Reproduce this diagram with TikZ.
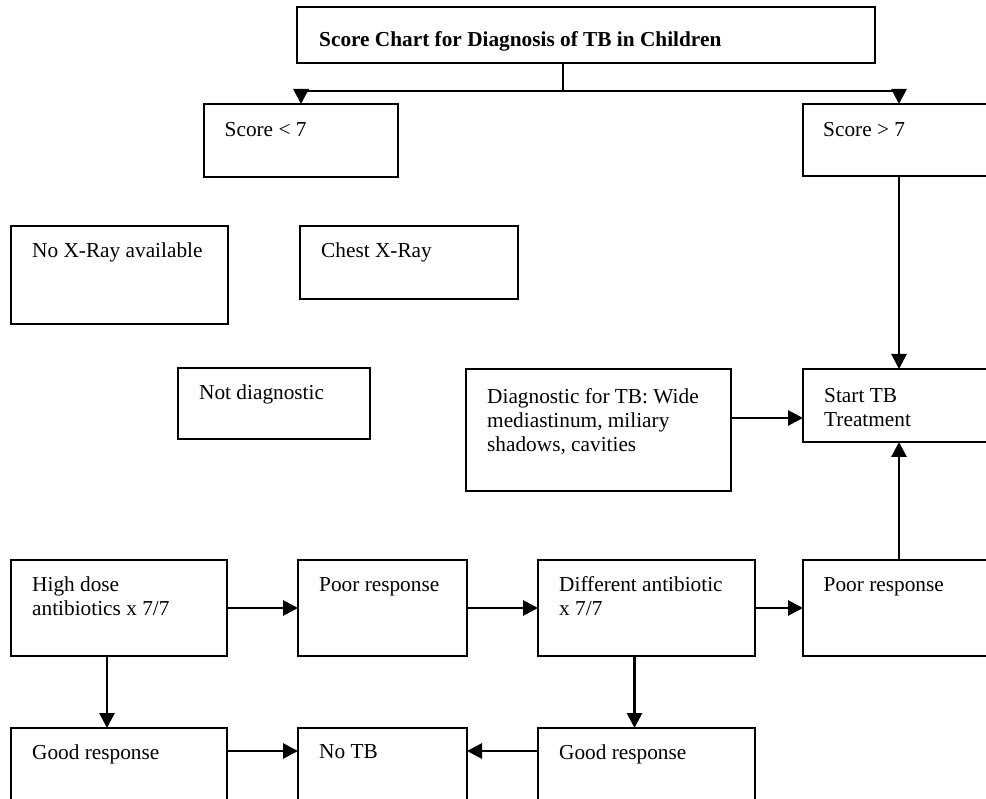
\documentclass[tikz,border=0pt]{standalone}
\usepackage{fontspec}
\setmainfont{Liberation Serif}
\usetikzlibrary{arrows.meta,calc}

\tikzset{
  box/.style={draw, line width=2.8pt, anchor=north west, inner sep=0pt, outer sep=0pt},
  txt/.style={anchor=north west, inner sep=0pt, align=left,
              font=\fontsize{21.3}{24}\selectfont},
  link/.style={line width=2.8pt},
  arr/.style={link, -{Triangle[length=15pt,width=15pt]}}
}

\begin{document}
\begin{tikzpicture}[x=1pt, y=-1pt]
  \useasboundingbox (0,0) rectangle (986,799);
  \clip (0,0) rectangle (986,799);

  % boxes (top-left corner, size)
  \node[box, minimum width=578, minimum height=56] (title)   at (297,7)   {};
  \node[box, minimum width=194, minimum height=73] (lt)      at (204,104) {};
  \node[box, minimum width=192, minimum height=72] (gt)      at (803,104) {};
  \node[box, minimum width=217, minimum height=98] (noxr)    at (11,226)  {};
  \node[box, minimum width=218, minimum height=73] (cxr)     at (300,226) {};
  \node[box, minimum width=192, minimum height=71] (notdiag) at (178,368) {};
  \node[box, minimum width=265, minimum height=122] (diag)   at (466,369) {};
  \node[box, minimum width=192, minimum height=73] (start)   at (803,369) {};
  \node[box, minimum width=216, minimum height=96] (hd)      at (11,560)  {};
  \node[box, minimum width=169, minimum height=96] (poor1)   at (298,560) {};
  \node[box, minimum width=217, minimum height=96] (diff)    at (538,560) {};
  \node[box, minimum width=192, minimum height=96] (poor2)   at (803,560) {};
  \node[box, minimum width=216, minimum height=96] (good1)   at (11,728)  {};
  \node[box, minimum width=169, minimum height=96] (notb)    at (298,728) {};
  \node[box, minimum width=217, minimum height=96] (good2)   at (538,728) {};

  % box texts, set in the top-left corner of each box
  \node[txt, font=\fontsize{21.3}{24}\selectfont\bfseries] (titlet)
       at ($(title.north west)+(22,24)$) {Score Chart for Diagnosis of TB in Children};
  \node[txt] (ltt)      at ($(lt.north west)+(20.5,18)$)   {Score < 7};
  \node[txt] (gtt)      at ($(gt.north west)+(20,18)$)     {Score > 7};
  \node[txt] (noxrt)    at ($(noxr.north west)+(21,17)$)   {No X-Ray available};
  \node[txt] (cxrt)     at ($(cxr.north west)+(21,17)$)    {Chest X-Ray};
  \node[txt] (notdiagt) at ($(notdiag.north west)+(21,17)$){Not diagnostic};
  \node[txt] (diagt)    at ($(diag.north west)+(21,19)$)   {Diagnostic for TB: Wide\\mediastinum, miliary\\shadows, cavities};
  \node[txt] (startt)   at ($(start.north west)+(21,19)$)  {Start TB\\Treatment};
  \node[txt] (hdt)      at ($(hd.north west)+(21,17)$)     {High dose\\antibiotics x 7/7};
  \node[txt] (poor1t)   at ($(poor1.north west)+(21,17)$)  {Poor response};
  \node[txt] (difft)    at ($(diff.north west)+(21,16)$)   {Different antibiotic\\x 7/7};
  \node[txt] (poor2t)   at ($(poor2.north west)+(20.5,17)$){Poor response};
  \node[txt] (good1t)   at ($(good1.north west)+(21,16.5)$){Good response};
  \node[txt] (notbt)    at ($(notb.north west)+(21,16.5)$) {No TB};
  \node[txt] (good2t)   at ($(good2.north west)+(21,16.5)$){Good response};

  % split below the title
  \coordinate (split) at (563,91);
  \draw[link] (title.south -| split) -- (split);
  \draw[arr] (split) -| (lt.north);
  \draw[arr] (split) -| (gt.north);

  % right column into treatment
  \draw[arr] (gt) -- (start);
  \coordinate (d1) at ([yshift=12pt]diag.east);
  \draw[arr] (d1) -- (d1 -| start.west);
  \draw[arr] (poor2) -- (start);

  % antibiotic trial row
  \draw[arr] (hd) -- (poor1);
  \draw[arr] (poor1) -- (diff);
  \draw[arr] (diff) -- (poor2);

  % good responses
  \coordinate (h1) at ([xshift=-12pt]hd.south);
  \draw[arr] (h1) -- (h1 |- good1.north);
  \coordinate (h2) at ([xshift=-12pt]diff.south);
  \draw[arr] (h2) -- (h2 |- good2.north);
  \coordinate (g1) at ([yshift=-23pt]good1.north east);
  \draw[arr] (g1) -- (g1 -| notb.west);
  \coordinate (g2) at ([yshift=-23pt]good2.north west);
  \draw[arr] (g2) -- (g2 -| notb.east);
\end{tikzpicture}
\end{document}
